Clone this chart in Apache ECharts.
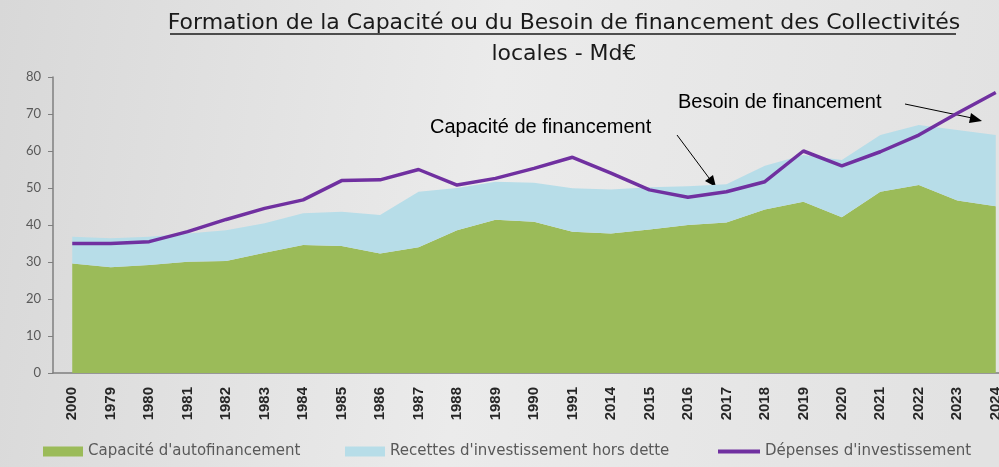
<!DOCTYPE html>
<html>
<head>
<meta charset="utf-8">
<script src="https://cdn.jsdelivr.net/npm/echarts@6/dist/echarts.min.js"></script>
<style>
  html, body { margin: 0; padding: 0; }
  #chart { width: 999px; height: 467px; }
</style>
</head>
<body>
<div id="chart"></div>
<script>
// categories, in the order shown on the axis
var years = ["2000", "1979", "1980", "1981", "1982", "1983", "1984", "1985", "1986", "1987",
  "1988", "1989", "1990", "1991", "2014", "2015", "2016", "2017", "2018", "2019",
  "2020", "2021", "2022", "2023", "2024"];

// Capacité d'autofinancement (Md€)
var caf = [29.6, 28.6, 29.2, 30.1, 30.3, 32.5, 34.6, 34.3, 32.3, 34.0,
  38.6, 41.4, 40.9, 38.2, 37.7, 38.8, 40.0, 40.7, 44.2, 46.3,
  42.1, 49.0, 50.8, 46.6, 45.1];

// Recettes d'investissement hors dette (Md€), stacked on the CAF
var recettes = [7.2, 7.8, 7.6, 7.6, 8.3, 8.0, 8.6, 9.3, 10.4, 15.0,
  11.4, 10.3, 10.5, 11.7, 11.9, 11.4, 10.5, 10.3, 11.8, 12.6,
  15.5, 15.3, 16.2, 19.1, 19.2];

// Dépenses d'investissement (Md€)
var depenses = [35.0, 35.0, 35.5, 38.2, 41.5, 44.5, 46.8, 52.0, 52.2, 55.0,
  50.8, 52.6, 55.3, 58.3, 54.0, 49.5, 47.5, 49.0, 51.7, 60.0,
  56.0, 59.8, 64.3, 70.2, 75.8];

var legendText = { fontFamily: "DejaVu Sans", fontSize: 15, color: "#595959" };

var chart = echarts.init(document.getElementById("chart"));

chart.setOption({
  backgroundColor: {
    type: "linear", x: 0, y: 0, x2: 1, y2: 0.3,
    colorStops: [
      { offset: 0, color: "#d8d8d8" },
      { offset: 0.5, color: "#ebebeb" },
      { offset: 1, color: "#e2e2e2" }
    ]
  },
  animation: false,
  title: [
    {
      text: "Formation de la Capacité ou du Besoin de financement des Collectivités",
      left: 559, top: 7, textAlign: "center",
      textStyle: { fontFamily: "DejaVu Sans", fontSize: 22, fontWeight: "normal", color: "#1a1a1a" }
    },
    {
      text: "locales - Md€",
      left: 559, top: 38, textAlign: "center",
      textStyle: { fontFamily: "DejaVu Sans", fontSize: 22, fontWeight: "normal", color: "#1a1a1a" }
    }
  ],
  legend: [
    {
      bottom: 3, left: 38, itemWidth: 40, itemHeight: 10, textStyle: legendText,
      data: [{ name: "Capacité d'autofinancement", icon: "rect" }]
    },
    {
      bottom: 3, left: 340, itemWidth: 40, itemHeight: 10, textStyle: legendText,
      data: [{ name: "Recettes d'investissement hors dette", icon: "rect" }]
    },
    {
      bottom: 3, left: 713, itemWidth: 42, itemHeight: 10, textStyle: legendText,
      data: [{ name: "Dépenses d'investissement", icon: "path://M0,0L42,0L42,4L0,4Z" }]
    }
  ],
  grid: { left: 53, top: 77, bottom: 94, width: 962, outerBoundsMode: "none" },
  xAxis: {
    type: "category",
    data: years,
    axisLine: { lineStyle: { color: "#7f7f7f", width: 1.5 } },
    axisTick: { lineStyle: { color: "#7f7f7f" }, length: 5 },
    axisLabel: {
      rotate: 90, interval: 0, margin: 14,
      fontFamily: "Liberation Sans", fontSize: 15, fontWeight: "bold", color: "#262626"
    }
  },
  yAxis: {
    type: "value",
    min: 0, max: 80, interval: 10,
    splitLine: { show: false },
    axisLine: { show: true, lineStyle: { color: "#7f7f7f", width: 1.5 } },
    axisTick: { show: true, lineStyle: { color: "#7f7f7f" }, length: 5 },
    axisLabel: { fontFamily: "Lato", fontSize: 13, color: "#595959", margin: 12 }
  },
  series: [
    {
      name: "Capacité d'autofinancement",
      type: "line", stack: "total", data: caf,
      symbol: "none", lineStyle: { width: 0 },
      itemStyle: { color: "#9bbb59" },
      areaStyle: { color: "#9bbb59", opacity: 1 }
    },
    {
      name: "Recettes d'investissement hors dette",
      type: "line", stack: "total", data: recettes,
      symbol: "none", lineStyle: { width: 0 },
      itemStyle: { color: "#b7dde8" },
      areaStyle: { color: "#b7dde8", opacity: 1 }
    },
    {
      name: "Dépenses d'investissement",
      type: "line", data: depenses,
      symbol: "none",
      itemStyle: { color: "#7030a0" },
      lineStyle: { color: "#7030a0", width: 3.5 }
    }
  ],
  graphic: [
    // underline under the first title line
    { type: "line", shape: { x1: 170, y1: 34, x2: 956, y2: 34 }, style: { stroke: "#1a1a1a", lineWidth: 1.5 } },
    {
      type: "text", left: 430, top: 117,
      style: { text: "Capacité de financement", font: "20px 'Liberation Sans'", fill: "#000" }
    },
    {
      type: "text", left: 678, top: 92,
      style: { text: "Besoin de financement", font: "20px 'Liberation Sans'", fill: "#000" }
    },
    { type: "line", shape: { x1: 677, y1: 135, x2: 712, y2: 182 }, style: { stroke: "#000", lineWidth: 1 } },
    { type: "polygon", shape: { points: [[716, 187], [705, 181], [713, 175]] }, style: { fill: "#000" } },
    { type: "line", shape: { x1: 905, y1: 104, x2: 972, y2: 118 }, style: { stroke: "#000", lineWidth: 1 } },
    { type: "polygon", shape: { points: [[982, 121], [969, 123], [971, 113]] }, style: { fill: "#000" } }
  ]
});
</script>
</body>
</html>
